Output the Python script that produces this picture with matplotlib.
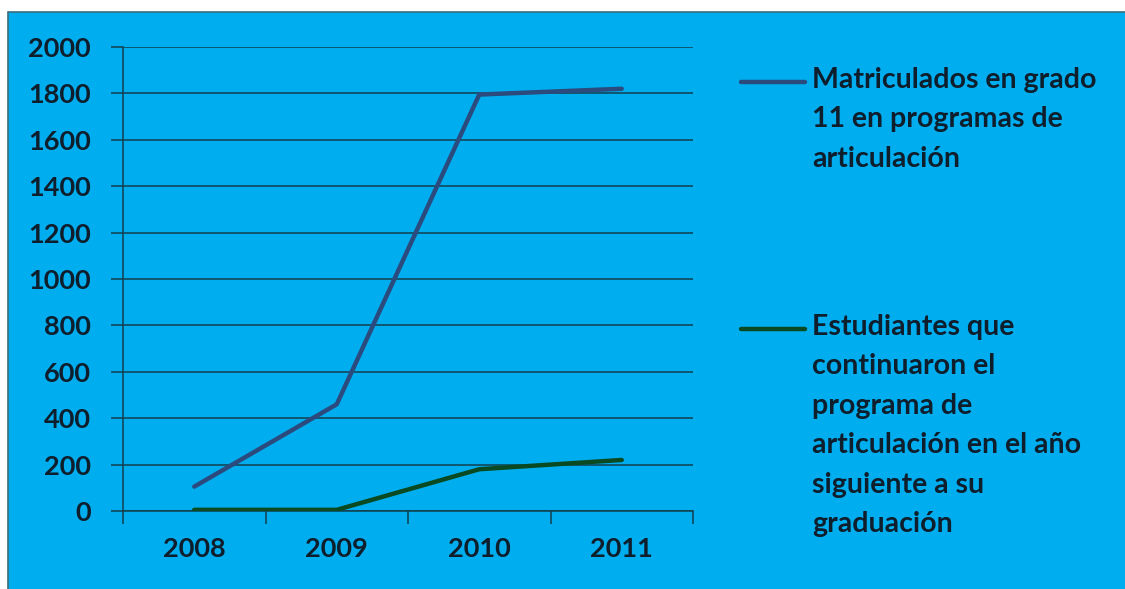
import matplotlib
matplotlib.use("Agg")
import matplotlib.pyplot as plt
from matplotlib.lines import Line2D
from matplotlib.patches import Rectangle

years = ["2008", "2009", "2010", "2011"]
matriculados = [105, 460, 1795, 1820]
estudiantes = [5, 5, 180, 220]
label_matriculados = "Matriculados en grado\n11 en programas de\narticulación"
label_estudiantes = "Estudiantes que\ncontinuaron el\nprograma de\narticulación en el año\nsiguiente a su\ngraduación"
yticks = [0, 200, 400, 600, 800, 1000, 1200, 1400, 1600, 1800, 2000]

BG = "#00AEEF"
TXT = "#0E1E2C"
GRID = "#12404E"
C_BLUE = "#2B4A7E"
C_GREEN = "#0A4A22"

plt.rcParams['font.family'] = ['Lato', 'DejaVu Sans']
W, H = 1125, 589
fig = plt.figure(figsize=(W / 100, H / 100), dpi=100, facecolor="white")
fig.add_artist(Rectangle((8 / W, -0.05), 1.2, 1.05 - 12 / H, transform=fig.transFigure,
                         facecolor=BG, edgecolor="#3A6C7C", linewidth=1.2, zorder=0))

ax = fig.add_axes([123 / W, 78 / H, 570 / W, 464 / H])
ax.set_facecolor(BG)
ax.patch.set_alpha(0)
x = list(range(len(years)))
l1, = ax.plot(x, matriculados, color=C_BLUE, lw=3.2, solid_capstyle='round', zorder=3)
l2, = ax.plot(x, estudiantes, color=C_GREEN, lw=3.2, solid_capstyle='round', zorder=3)

ax.set_xlim(-0.5, len(years) - 0.5)
ax.set_ylim(0, 2000)
ax.set_yticks(yticks)
ax.set_yticklabels([str(v) for v in yticks])
ax.yaxis.grid(True, color=GRID, lw=1.1)
ax.set_axisbelow(True)
for s in ["top", "right"]:
    ax.spines[s].set_visible(False)
for s in ["left", "bottom"]:
    ax.spines[s].set_color(GRID)
    ax.spines[s].set_linewidth(1.1)

ax.set_xticks([i - 0.5 for i in range(len(years) + 1)])
ax.set_xticklabels([])
ax.set_xticks(x, minor=True)
ax.set_xticklabels(years, minor=True)
ax.tick_params(axis='x', which='major', length=9, width=1.1, color=GRID, direction='out')
ax.tick_params(axis='x', which='minor', length=0, pad=19, labelsize=19.5, labelcolor=TXT)
ax.tick_params(axis='y', length=9, width=1.1, color=GRID, direction='out', pad=14,
               labelsize=19.5, labelcolor=TXT)
for lab in ax.get_xticklabels(minor=True) + ax.get_yticklabels():
    lab.set_fontweight('bold')

def legend_entry(line, label, y):
    fig.add_artist(Line2D([741 / W, 805 / W], [1 - y / H, 1 - y / H], transform=fig.transFigure,
                          color=line.get_color(), lw=3.2, solid_capstyle='round'))
    fig.text(812 / W, 1 - (y - 15) / H, label, transform=fig.transFigure, ha='left', va='top',
             fontsize=20.5, fontweight='bold', color=TXT, linespacing=1.64)

legend_entry(l1, label_matriculados, 82)
legend_entry(l2, label_estudiantes, 329)

fig.savefig("out.png", dpi=100, facecolor="white")
